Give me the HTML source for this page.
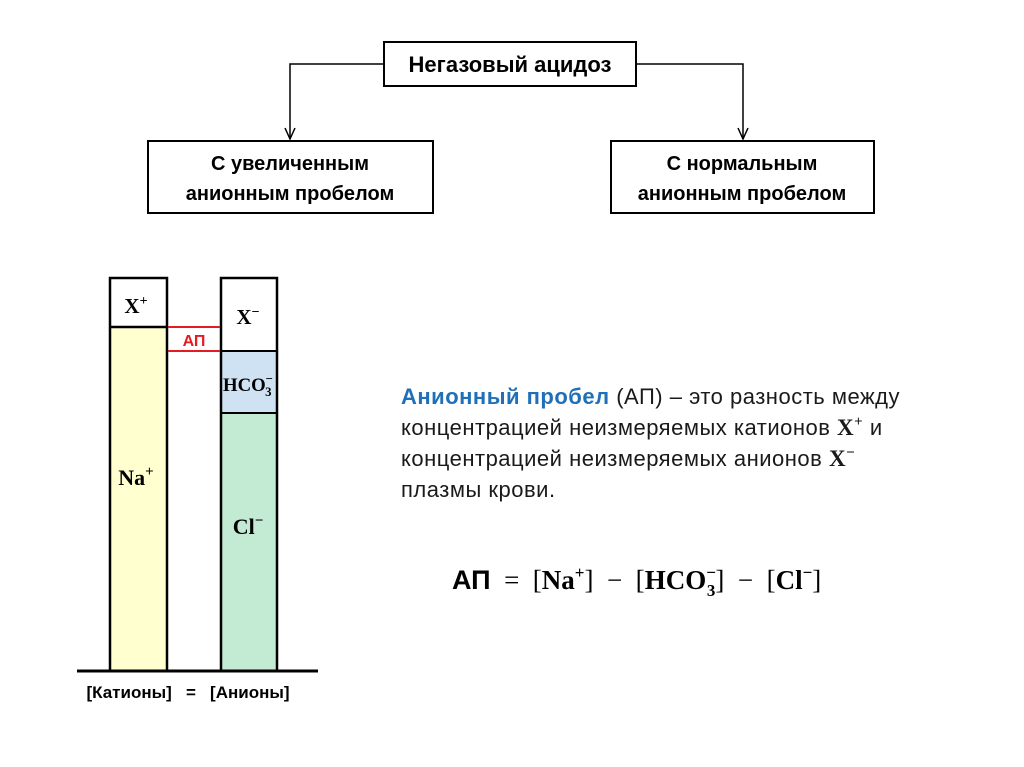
<!DOCTYPE html>
<html><head><meta charset="utf-8"><style>
html,body{margin:0;padding:0;background:#fff;}
svg{display:block;}
.b{font-family:"Liberation Sans Narrow","Liberation Sans",sans-serif;font-weight:bold;}
.s{font-family:"Liberation Serif",serif;font-weight:bold;}
.t{font-family:"Liberation Sans",sans-serif;font-size:22px;fill:#1a1a1a;letter-spacing:0.5px;}
</style></head><body>
<svg width="1024" height="767" viewBox="0 0 1024 767" xmlns="http://www.w3.org/2000/svg">
<g stroke="#000" stroke-width="1.5" fill="none">
<polyline points="384,64 290,64 290,139"/>
<polyline points="636,64 743,64 743,139"/>
<path d="M285,128 L290,139 L295,128"/>
<path d="M738,128 L743,139 L748,128"/>
</g>
<rect x="384" y="42" width="252" height="44" fill="#fff" stroke="#000" stroke-width="2"/>
<text x="510" y="72" text-anchor="middle" class="b" font-size="22">Негазовый ацидоз</text>
<rect x="148" y="141" width="285" height="72" fill="#fff" stroke="#000" stroke-width="2"/>
<text x="290" y="170" text-anchor="middle" class="b" font-size="20">С увеличенным</text>
<text x="290" y="200" text-anchor="middle" class="b" font-size="20">анионным пробелом</text>
<rect x="611" y="141" width="263" height="72" fill="#fff" stroke="#000" stroke-width="2"/>
<text x="742" y="170" text-anchor="middle" class="b" font-size="20">С нормальным</text>
<text x="742" y="200" text-anchor="middle" class="b" font-size="20">анионным пробелом</text>

<rect x="110" y="327" width="57" height="344" fill="#ffffd0"/>
<rect x="110" y="278" width="57" height="393" fill="none" stroke="#000" stroke-width="2.5"/>
<line x1="110" y1="327" x2="167" y2="327" stroke="#000" stroke-width="2.5"/>
<rect x="221" y="351" width="56" height="62" fill="#cfe2f3"/>
<rect x="221" y="413" width="56" height="258" fill="#c3ead2"/>
<rect x="221" y="278" width="56" height="393" fill="none" stroke="#000" stroke-width="2.5"/>
<line x1="221" y1="351" x2="277" y2="351" stroke="#000" stroke-width="2"/>
<line x1="221" y1="413" x2="277" y2="413" stroke="#000" stroke-width="2"/>
<line x1="168" y1="327" x2="220" y2="327" stroke="#e31b23" stroke-width="2"/>
<line x1="168" y1="351" x2="220" y2="351" stroke="#e31b23" stroke-width="2"/>
<text x="194" y="346" text-anchor="middle" font-family="Liberation Sans,sans-serif" font-weight="bold" font-size="16" fill="#e31b23">АП</text>
<line x1="77" y1="671" x2="318" y2="671" stroke="#000" stroke-width="3"/>
<text x="136" y="313" text-anchor="middle" class="s" font-size="21">X<tspan font-size="14" dy="-8">+</tspan></text>
<text x="248" y="324" text-anchor="middle" class="s" font-size="21">X<tspan font-size="14" dy="-8">−</tspan></text>
<text x="248" y="391" text-anchor="middle" class="s" font-size="19" textLength="50" lengthAdjust="spacingAndGlyphs">HCO<tspan font-size="13" dy="-8">−</tspan><tspan font-size="13" dx="-8" dy="13">3</tspan></text>
<text x="136" y="485" text-anchor="middle" class="s" font-size="22">Na<tspan font-size="15" dy="-9">+</tspan></text>
<text x="248" y="534" text-anchor="middle" class="s" font-size="22">Cl<tspan font-size="15" dy="-9">−</tspan></text>
<text x="188" y="698" text-anchor="middle" font-family="Liberation Sans,sans-serif" font-weight="bold" font-size="17" xml:space="preserve">[Катионы]   =   [Анионы]</text>

<text x="401" y="404" class="t"><tspan fill="#1f70b8" font-weight="bold">Анионный пробел</tspan> (АП) – это разность между</text>
<text x="401" y="435" class="t">концентрацией неизмеряемых катионов <tspan class="s" font-size="23">X<tspan font-size="15" dy="-9">+</tspan></tspan><tspan dy="9"> и</tspan></text>
<text x="401" y="466" class="t">концентрацией неизмеряемых анионов <tspan class="s" font-size="23">X<tspan font-size="15" dy="-9">−</tspan></tspan></text>
<text x="401" y="497" class="t">плазмы крови.</text>
<text x="452" y="589" font-size="27" xml:space="preserve"><tspan font-family="Liberation Sans,sans-serif" font-weight="bold">АП</tspan><tspan font-family="Liberation Serif,serif">  =  [</tspan><tspan class="s">Na<tspan font-size="17" dy="-11">+</tspan></tspan><tspan font-family="Liberation Serif,serif" dy="11">]  −  [</tspan><tspan class="s">HCO<tspan font-size="17" dy="-11">−</tspan><tspan font-size="17" dx="-9" dy="18">3</tspan></tspan><tspan font-family="Liberation Serif,serif" dy="-7">]  −  [</tspan><tspan class="s">Cl<tspan font-size="17" dy="-11">−</tspan></tspan><tspan font-family="Liberation Serif,serif" dy="11">]</tspan></text>
</svg>
</body></html>
